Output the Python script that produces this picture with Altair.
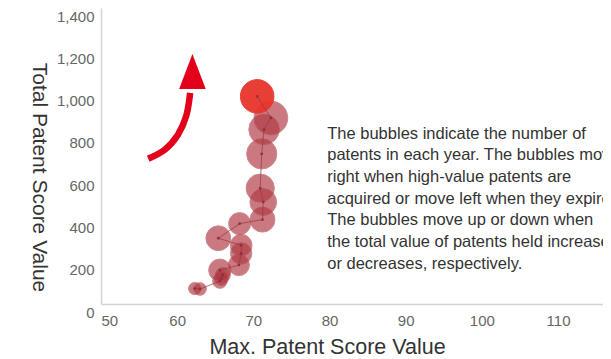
import altair as alt
import pandas as pd
import math

# ---- data ----
step = list(range(1, 19))
max_score = [62.3, 63.0, 65.6, 65.8, 66.0, 65.6, 68.1, 68.4, 68.4, 65.4, 68.2, 71.2, 71.3, 70.9, 71.1, 71.4, 72.3, 70.5]
total_score = [73, 71, 108, 121, 137, 160, 184, 239, 278, 311, 380, 399, 482, 548, 710, 825, 880, 982]
patents = [48, 50, 66, 62, 70, 158, 142, 146, 150, 196, 155, 198, 226, 254, 290, 295, 362, 358]
current = [False] * 17 + [True]

arrow_x = [56.2, 58.4, 60.1, 61.2, 61.7]
arrow_y = [687, 731, 801, 891, 999]
arrow_head = {"x": 62.0, "y": 1100}

note_lines = [
    "The bubbles indicate the number of",
    "patents in each year. The bubbles move",
    "right when high-value patents are",
    "acquired or move left when they expire.",
    "The bubbles move up or down when",
    "the total value of patents held increases",
    "or decreases, respectively.",
]
note_pos = {"x": 79.7, "y": 806}

x_ticks = [50, 60, 70, 80, 90, 100, 110]
y_ticks = [0, 200, 400, 600, 800, 1000, 1200, 1400]

df = pd.DataFrame({"step": step, "x": max_score, "y": total_score,
                   "patents": patents, "current": current})
arrow_df = pd.DataFrame({"i": list(range(len(arrow_x))), "x": arrow_x, "y": arrow_y})
head_df = pd.DataFrame([arrow_head])
note_df = pd.DataFrame([{"x": note_pos["x"], "y": note_pos["y"], "t": "\n".join(note_lines)}])

FONT = "Liberation Sans"

xscale = alt.Scale(domain=[50, 115.9], nice=False, zero=False)
yscale = alt.Scale(domain=[0, 1400], nice=False)

xenc = alt.X("x:Q", scale=xscale, axis=alt.Axis(
    values=x_ticks, title="Max. Patent Score Value", grid=False, ticks=False,
    labelFlush=True, labelPadding=9, labelFontSize=15, labelColor="#666666",
    labelFont=FONT, titleFont=FONT, titleFontSize=21.5, titleFontWeight="normal",
    titleColor="#333333", titleX=226, titleY=43, titleBaseline="middle",
    titleAnchor="start", titleAlign="center",
    domainColor="#d4d4d4", domainWidth=1.5))
yenc = alt.Y("y:Q", scale=yscale, axis=alt.Axis(
    values=y_ticks, title="Total Patent Score Value", grid=False, ticks=False,
    labelFlush=False, labelPadding=7, labelOffset=8, labelFontSize=15,
    labelColor="#666666", labelFont=FONT, titleFont=FONT, titleFontSize=21,
    titleFontWeight="normal", titleColor="#333333", titleAngle=90,
    titleX=-63, titleY=169, titleAlign="center", titleBaseline="middle",
    domainColor="#d4d4d4", domainWidth=1.5))

bubbles = alt.Chart(df).mark_circle(strokeWidth=1).encode(
    x=xenc, y=yenc,
    size=alt.Size("patents:Q", scale=alt.Scale(domain=[0, 400], range=[0, 400 * math.pi]), legend=None),
    color=alt.Color("current:N", scale=alt.Scale(domain=[False, True], range=["#b03a44", "#e8342c"]), legend=None),
    stroke=alt.Stroke("current:N", scale=alt.Scale(domain=[False, True], range=["#b5525a", "#e8342c"]), legend=None),
    opacity=alt.Opacity("current:N", scale=alt.Scale(domain=[False, True], range=[0.68, 0.95]), legend=None),
    order=alt.Order("step:Q"),
)

path = alt.Chart(df).mark_line(color="#9a3640", strokeWidth=1, opacity=0.7).encode(
    x="x:Q", y="y:Q", order="step:Q")

dots = alt.Chart(df).mark_point(filled=True, size=8, color="#8a3038", opacity=0.9).encode(
    x="x:Q", y="y:Q")

arrow = alt.Chart(arrow_df).mark_line(color="#e2001a", strokeWidth=6.5, interpolate="cardinal",
                                      strokeCap="butt").encode(x="x:Q", y="y:Q", order="i:Q")
head = alt.Chart(head_df).mark_point(shape="M0,-1 L0.76,1 L-0.76,1 Z", filled=True, size=1225,
                                     color="#e2001a", opacity=1).encode(x="x:Q", y="y:Q")

note = alt.Chart(note_df).mark_text(align="left", baseline="middle", lineBreak="\n",
                                    lineHeight=21.7, fontSize=16.5, font=FONT,
                                    color="#333333").encode(x="x:Q", y="y:Q", text="t:N")

chart = alt.layer(bubbles, path, dots, arrow, head, note).properties(
    width=502, height=296,
    autosize=alt.AutoSizeParams(type="none"),
    padding={"left": 93, "top": 0, "right": 0, "bottom": 51},
).configure_view(stroke=None)

chart.save("out.html", embed_options={"renderer": "svg", "actions": False})
